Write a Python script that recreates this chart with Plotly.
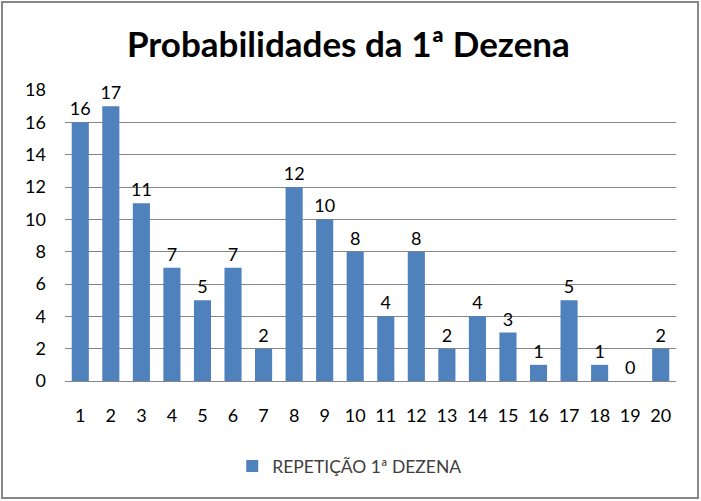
import plotly.graph_objects as go

dezenas = [str(i) for i in range(1, 21)]
repeticoes = [16, 17, 11, 7, 5, 7, 2, 12, 10, 8, 4, 8, 2, 4, 3, 1, 5, 1, 0, 2]
y_ticks = list(range(0, 19, 2))

W, H = 701, 501
L, R, T, B = 65, 25, 90, 120
pw, ph = W - L - R, H - T - B

fig = go.Figure()
fig.add_trace(go.Bar(
    x=dezenas, y=repeticoes, name="REPETIÇÃO 1ª DEZENA",
    marker=dict(color="#4F81BD", line=dict(width=0)),
    text=repeticoes, textposition="outside", cliponaxis=False, constraintext="none",
    textfont=dict(size=18, color="#000000"),
))

fig.update_layout(
    width=W, height=H,
    margin=dict(l=L, r=R, t=T, b=B, autoexpand=False),
    paper_bgcolor="white", plot_bgcolor="white",
    font=dict(family="Lato, 'Open Sans', sans-serif", size=18, color="#000000"),
    title=dict(text="<b>Probabilidades da 1ª Dezena</b>", x=0.497, xanchor="center",
               y=1 - 45 / H, yanchor="middle", font=dict(size=35)),
    bargap=0.44,
    showlegend=True,
    legend=dict(orientation="h", x=0.466, xanchor="center", y=-(466 - T - ph) / ph,
                yanchor="middle", font=dict(size=17.5, color="#404040")),
    xaxis=dict(type="category", showgrid=False, showline=False, ticks="", automargin=False,
               ticklabelstandoff=22, tickfont=dict(size=18)),
    yaxis=dict(range=[0, 18], tickvals=y_ticks, showgrid=True, gridcolor="#868686",
               gridwidth=1, zeroline=True, zerolinecolor="#868686", zerolinewidth=1,
               automargin=False, showline=False, ticks="", ticklabelstandoff=18,
               tickfont=dict(size=18)),
)

fig.add_shape(type="rect", xref="paper", yref="paper",
              x0=(2 - L) / pw, x1=(698 - L) / pw,
              y0=-(498 - T - ph) / ph, y1=1 + (T - 2) / ph,
              line=dict(color="#868686", width=2), fillcolor="rgba(0,0,0,0)")

fig.write_html("out.html", config={"displayModeBar": False},
               post_script="document.body.style.margin='0';document.body.style.overflow='hidden';")
